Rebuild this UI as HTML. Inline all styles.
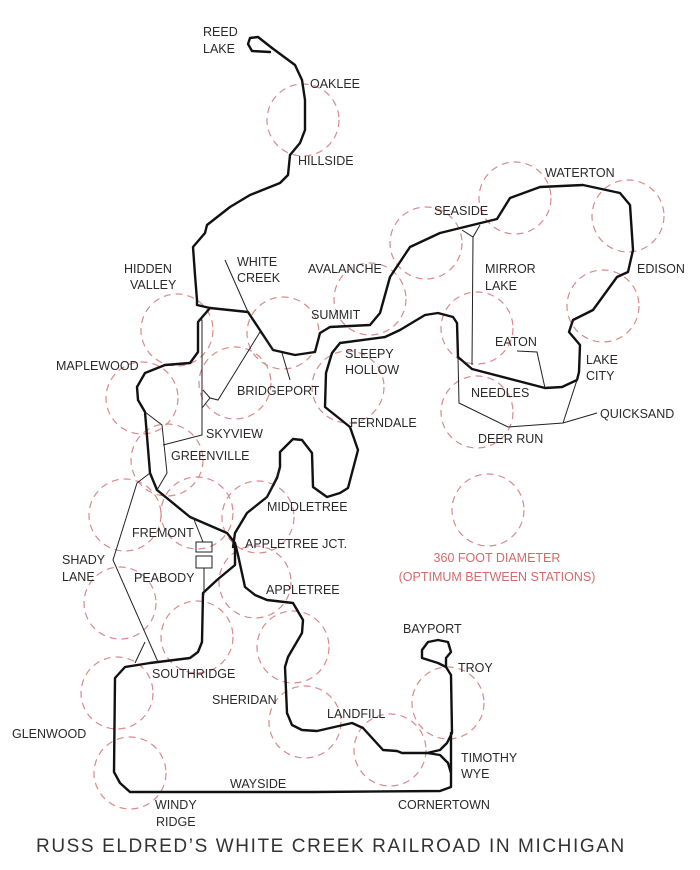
<!DOCTYPE html>
<html><head><meta charset="utf-8"><style>
html,body{margin:0;padding:0;background:#fff}
svg{display:block}
text{font-family:"Liberation Sans",sans-serif;font-size:12.5px;fill:#2a2a2a}
.c{fill:none;stroke:#d98a8a;stroke-width:1.2;stroke-dasharray:7 5}
.t{fill:none;stroke:#111;stroke-width:2.4;stroke-linejoin:round;stroke-linecap:round}
.n{fill:none;stroke:#222;stroke-width:1}
</style></head><body>
<svg width="700" height="870" viewBox="0 0 700 870" xmlns="http://www.w3.org/2000/svg">
<g class="c">
<circle cx="303" cy="120" r="36"/><circle cx="515" cy="198" r="36"/><circle cx="628" cy="216" r="36"/>
<circle cx="426" cy="243" r="36"/><circle cx="370" cy="299" r="36"/><circle cx="283" cy="333" r="36"/>
<circle cx="177" cy="330" r="36"/><circle cx="603" cy="306" r="36"/><circle cx="477" cy="328" r="36"/>
<circle cx="348" cy="387" r="36"/><circle cx="235" cy="383" r="36"/><circle cx="142" cy="398" r="36"/>
<circle cx="477" cy="412" r="36"/><circle cx="167" cy="460" r="36"/><circle cx="125" cy="515" r="36"/>
<circle cx="197" cy="513" r="36"/><circle cx="258" cy="517" r="36"/><circle cx="255" cy="582" r="36"/>
<circle cx="488" cy="510" r="36"/><circle cx="120" cy="603" r="36"/><circle cx="197" cy="637" r="36"/>
<circle cx="293" cy="647" r="36"/><circle cx="117" cy="693" r="36"/><circle cx="305" cy="722" r="36"/>
<circle cx="390" cy="750" r="36"/><circle cx="448" cy="703" r="36"/><circle cx="130" cy="773" r="36"/>
</g>
<g class="t">
<path d="M272,48 L258,37 L250,38 L248,44 L252,51 L270,52"/>
<path d="M272,48 L295,65 L302,80 L305,100 L305,130 L300,143 L290,155 L288,175 L280,183 L250,195 L230,207 L207,225 L205,233 L193,247 L195,275 L197,300 L197,305 L210,308 L248,312 L273,350 L295,355 L315,352 L320,333 L330,327 L370,325 L380,313 L390,277 L410,247 L440,233 L497,219 L510,198 L540,187 L583,185 L620,193 L630,205 L633,250 L628,272 L617,277 L593,310 L573,320 L569,332 L580,345 L579,372 L577,380 L562,387 L545,388 L472,369 L458,357 L457,323 L453,317 L438,313 L425,315 L400,330 L385,337 L340,343 L332,353 L326,373 L325,407 L350,427 L358,450 L348,488 L340,493 L327,497 L313,487 L312,453 L302,440 L293,439 L280,452 L280,467 L277,478 L267,497 L247,513 L235,533 L233,547"/>
<path d="M210,308 L198,322 L198,352 L190,363 L165,365 L145,373 L137,387 L138,400 L145,412 L150,473 L157,490 L190,517 L227,533 L235,543 L238,555 L245,587 L255,595 L267,600 L293,603 L303,620 L302,633 L288,657 L285,667 L287,713 L292,725 L302,730 L317,731 L352,723 L363,728 L383,750 L397,751 L402,753 L427,753 L440,750 L447,743 L452,733 L451,675 L446,667 L438,663 L422,658 L422,650 L428,642 L438,640 L448,642 L451,652 L446,658 L446,667"/>
<path d="M427,753 L440,755 L448,763 L451,773 M451,733 L451,787 L440,791 L313,792 L130,792 L120,783 L114,772 L115,678 L125,667 L150,663 L190,658 L198,652 L202,642 L203,593 L217,580 L235,565 L235,547"/>
</g>
<g class="n">
<path d="M225,260 L248,312 M273,350 L260,332 L218,400 L210,398 L202,408 M282,353 L290,380"/>
<path d="M198,320 L202,320 L202,435 L163,445 M203,390 L210,398"/>
<path d="M145,412 L162,425 L167,473 L157,490"/>
<path d="M150,473 L137,483 L113,560 L158,662 M135,663 L145,642"/>
<path d="M193,517 L203,542 M204,568 L204,595"/>
<rect x="196" y="542" width="16" height="10"/><rect x="196" y="556" width="16" height="12"/>
<path d="M265,500 L280,470"/>
<path d="M462,230 L473,237 L480,225 M473,237 L472,365"/>
<path d="M458,357 L459,403 L508,427 L563,423 L597,413 M563,423 L577,380"/>
<path d="M517,351 L537,352 L545,388"/>
</g>
<text x="203" y="36">REED</text><text x="203" y="53">LAKE</text>
<text x="310" y="88">OAKLEE</text>
<text x="298" y="165">HILLSIDE</text>
<text x="545" y="177">WATERTON</text>
<text x="434" y="215">SEASIDE</text>
<text x="637" y="273">EDISON</text>
<text x="485" y="273">MIRROR</text><text x="485" y="290">LAKE</text>
<text x="237" y="266">WHITE</text><text x="237" y="282">CREEK</text>
<text x="124" y="273">HIDDEN</text><text x="130" y="289">VALLEY</text>
<text x="308" y="273">AVALANCHE</text>
<text x="311" y="319">SUMMIT</text>
<text x="495" y="346">EATON</text>
<text x="586" y="364">LAKE</text><text x="586" y="380">CITY</text>
<text x="345" y="358">SLEEPY</text><text x="345" y="374">HOLLOW</text>
<text x="56" y="370">MAPLEWOOD</text>
<text x="237" y="395">BRIDGEPORT</text>
<text x="471" y="397">NEEDLES</text>
<text x="600" y="418">QUICKSAND</text>
<text x="350" y="427">FERNDALE</text>
<text x="478" y="443">DEER RUN</text>
<text x="206" y="438">SKYVIEW</text>
<text x="171" y="460">GREENVILLE</text>
<text x="267" y="511">MIDDLETREE</text>
<text x="132" y="537">FREMONT</text>
<text x="245" y="548">APPLETREE JCT.</text>
<text x="62" y="564">SHADY</text><text x="62" y="581">LANE</text>
<text x="134" y="582">PEABODY</text>
<text x="266" y="594">APPLETREE</text>
<text x="403" y="633">BAYPORT</text>
<text x="458" y="672">TROY</text>
<text x="152" y="678">SOUTHRIDGE</text>
<text x="212" y="704">SHERIDAN</text>
<text x="327" y="718">LANDFILL</text>
<text x="12" y="738">GLENWOOD</text>
<text x="461" y="762">TIMOTHY</text><text x="461" y="778">WYE</text>
<text x="230" y="788">WAYSIDE</text>
<text x="398" y="809">CORNERTOWN</text>
<text x="155" y="809">WINDY</text><text x="156" y="826">RIDGE</text>
<text x="497" y="562" text-anchor="middle" style="fill:#d46a6a">360 FOOT DIAMETER</text>
<text x="497" y="581" text-anchor="middle" style="fill:#d46a6a">(OPTIMUM BETWEEN STATIONS)</text>
<text x="36" y="852" style="font-size:19px;letter-spacing:1.6px;fill:#333">RUSS ELDRED’S WHITE CREEK RAILROAD IN MICHIGAN</text>
</svg>
</body></html>
